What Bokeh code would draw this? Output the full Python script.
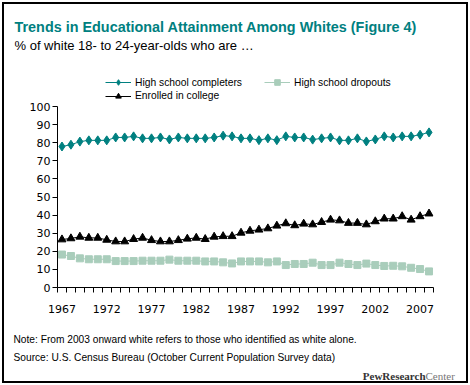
from bokeh.plotting import figure
from bokeh.layouts import column
from bokeh.models import Range1d, FixedTicker, Label, Legend, LegendItem
from bokeh.embed import file_html
from bokeh.resources import INLINE

years = list(range(1967, 2009))
completers = [77.9, 78.9, 80.6, 81.3, 81.3, 81.3, 82.9, 82.9, 83.5, 82.4,
              82.4, 82.9, 81.8, 82.9, 82.4, 82.4, 82.4, 82.9, 83.9, 83.5,
              82.4, 82.4, 81.4, 82.4, 81.4, 83.5, 82.9, 82.9, 81.7, 82.4,
              82.9, 81.3, 81.3, 82.4, 80.7, 81.8, 83.5, 82.9, 83.5, 83.5,
              84.4, 85.7]
dropouts = [18.2, 17.4, 16.1, 15.6, 15.6, 15.6, 14.6, 14.6, 14.6, 14.8,
            14.8, 14.8, 15.4, 14.8, 14.8, 14.8, 14.4, 14.4, 13.9, 13.3,
            14.4, 14.4, 14.4, 13.9, 14.4, 12.4, 13.0, 13.0, 13.7, 12.4,
            12.4, 13.7, 13.0, 12.4, 13.2, 12.4, 11.9, 12.0, 11.7, 10.9,
            10.2, 8.9]
enrolled = [26.5, 27.1, 28.0, 27.4, 27.4, 26.3, 25.4, 25.4, 26.7, 27.4,
            26.1, 25.4, 25.4, 26.1, 26.9, 27.4, 26.7, 28.0, 28.3, 28.3,
            30.2, 31.3, 31.9, 32.6, 34.1, 35.4, 34.3, 35.2, 34.8, 36.1,
            37.4, 37.0, 35.6, 35.6, 34.8, 36.5, 38.0, 38.0, 39.3, 37.4,
            39.3, 40.8]
label_years = [1967, 1972, 1977, 1982, 1987, 1992, 1997, 2002, 2007]
y_ticks = [0, 10, 20, 30, 40, 50, 60, 70, 80, 90, 100]

TEAL = "#008080"
SAGE = "#A9CDBB"
AXFONT = "DejaVu Sans"
TXFONT = "Liberation Sans"
W = 470
TOP_H, MAIN_H, BOT_H = 102, 216, 67


def bare_fig(h, y0):
    f = figure(width=W, height=h, output_backend="svg", toolbar_location=None,
               x_range=Range1d(0, W), y_range=Range1d(y0 + h, y0),
               x_axis_type=None, y_axis_type=None, frame_align=False,
               min_border=0, min_border_left=0, min_border_right=0,
               min_border_top=0, min_border_bottom=0)
    f.outline_line_color = None
    f.grid.visible = False
    f.background_fill_alpha = 0
    f.border_fill_alpha = 0
    return f


def lab(f, x, y, text, size, color="black", font=TXFONT, style="normal", align="left"):
    f.add_layout(Label(x=x, y=y, text=text, text_font=font, text_font_size=size,
                       text_font_style=style, text_color=color,
                       text_align=align, text_baseline="alphabetic"))


# ---------------- top: title, subtitle, legend ----------------
top = bare_fig(TOP_H, 0)
lab(top, 14, 26, "Trends in Educational Attainment Among Whites (Figure 4)", "14.4px",
    color=TEAL, style="bold")
lab(top, 14, 44.5, "% of white 18- to 24-year-olds who are \u2026", "13px")

# legend samples (same styles as the chart; data lies outside this panel's range)
lc = top.line(years, completers, line_color=TEAL, line_width=1)
pc = top.scatter(years, completers, marker="diamond", size=9, fill_color=TEAL, line_color=TEAL)
ld = top.line(years, dropouts, line_color=SAGE, line_width=1)
pd_ = top.scatter(years, dropouts, marker="square", size=7, fill_color=SAGE, line_color=SAGE)
le = top.line(years, enrolled, line_color="black", line_width=1)
pe = top.scatter(years, enrolled, marker="triangle", size=8, fill_color="black", line_color="black")


def make_legend(label, rends, loc):
    return Legend(items=[LegendItem(label=label, renderers=rends)],
                  location=loc, orientation="horizontal",
                  glyph_width=26, glyph_height=14, label_height=14,
                  label_standoff=4, padding=0, margin=0, spacing=0,
                  border_line_color=None, background_fill_alpha=0,
                  label_text_font=TXFONT, label_text_font_size="10.3px",
                  label_text_color="black")


top.add_layout(make_legend("High school completers", [lc, pc], (105, TOP_H - 89)))
top.add_layout(make_legend("High school dropouts", [ld, pd_], (264, TOP_H - 89)))
top.add_layout(make_legend("Enrolled in college", [le, pe], (105, TOP_H - 102.5)))

# ---------------- main chart ----------------
p = figure(width=W, height=MAIN_H, output_backend="svg", toolbar_location=None,
           x_range=Range1d(1966.5, 2008.5), y_range=Range1d(0, 100),
           frame_align=False,
           min_border_left=57, min_border_right=37, min_border_top=4,
           min_border_bottom=31)
p.outline_line_color = None
p.grid.visible = False
p.background_fill_alpha = 0
p.border_fill_alpha = 0

p.yaxis.ticker = FixedTicker(ticks=y_ticks)
p.yaxis.major_tick_out = 5
p.yaxis.major_tick_in = 0
p.yaxis.minor_tick_out = 0
p.yaxis.minor_tick_in = 0
p.yaxis.major_label_standoff = 2
p.yaxis.major_label_text_font = AXFONT
p.yaxis.major_label_text_font_size = "11px"
p.yaxis.major_label_text_color = "black"
p.yaxis.axis_line_color = "black"

p.xaxis.ticker = FixedTicker(ticks=label_years,
                             minor_ticks=[y - 0.5 for y in years] + [years[-1] + 0.5])
p.xaxis.major_tick_out = 0
p.xaxis.major_tick_in = 0
p.xaxis.minor_tick_out = 5
p.xaxis.minor_tick_in = 0
p.xaxis.minor_tick_line_color = "black"
p.xaxis.major_label_standoff = 12
p.xaxis.major_label_text_font = AXFONT
p.xaxis.major_label_text_font_size = "11px"
p.xaxis.major_label_text_color = "black"
p.xaxis.axis_line_color = "black"

p.line(years, completers, line_color=TEAL, line_width=1)
p.scatter(years, completers, marker="diamond", size=9, fill_color=TEAL, line_color=TEAL)
p.line(years, dropouts, line_color=SAGE, line_width=1)
p.scatter(years, dropouts, marker="square", size=7, fill_color=SAGE, line_color=SAGE)
p.line(years, enrolled, line_color="black", line_width=1)
p.scatter(years, enrolled, marker="triangle", size=8, fill_color="black", line_color="black")

# ---------------- bottom: notes and logo ----------------
bot = bare_fig(BOT_H, TOP_H + MAIN_H)
lab(bot, 13, 339, "Note: From 2003 onward white refers to those who identified as white alone.", "10.2px")
lab(bot, 13, 357.3, "Source: U.S. Census Bureau (October Current Population Survey data)", "10.2px")
lab(bot, 425, 375, "PewResearch", "11px", color="#333333", font="Liberation Serif",
    style="bold", align="right")
lab(bot, 425, 375, "Center", "11px", color="#777777", font="Liberation Serif", align="left")

layout = column(top, p, bot, spacing=0,
                styles={"outline": "2px solid black", "outline-offset": "-4px"})

open("out.html", "w").write(file_html(layout, INLINE))
